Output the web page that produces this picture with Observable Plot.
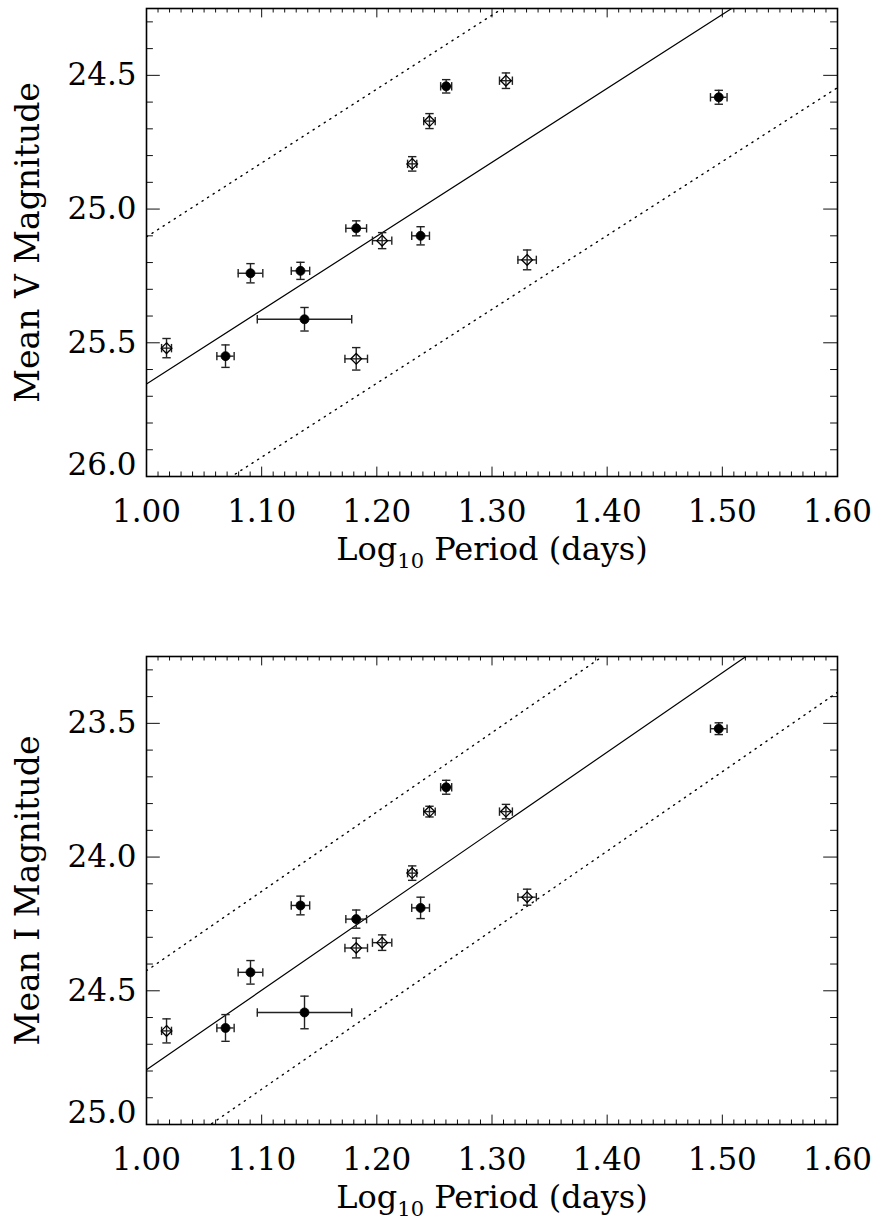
<!DOCTYPE html>
<html>
<head>
<meta charset="utf-8">
<script src="https://cdn.jsdelivr.net/npm/d3@7"></script>
<script src="https://cdn.jsdelivr.net/npm/@observablehq/plot@0.6"></script>
<style>
  body { margin: 0; background: #fff; }
  svg { display: block; }
</style>
</head>
<body>
<div id="chart"></div>
<script>
// ---- Data ----
const logP    = [1.0174, 1.0686, 1.0903, 1.1337, 1.1372, 1.1821, 1.1821, 1.2046, 1.2307, 1.2380, 1.2457, 1.2602, 1.3121, 1.3305, 1.4969];
const logPErr = [0.0043, 0.0075, 0.0107, 0.0080, 0.0410, 0.0098, 0.0090, 0.0084, 0.0040, 0.0077, 0.0050, 0.0048, 0.0056, 0.0080, 0.0072];
const vMag    = [25.520, 25.550, 25.240, 25.231, 25.412, 25.560, 25.072, 25.118, 24.831, 25.100, 24.671, 24.541, 24.520, 25.190, 24.582];
const vErr    = [0.036, 0.042, 0.036, 0.032, 0.044, 0.042, 0.028, 0.030, 0.027, 0.034, 0.028, 0.025, 0.029, 0.037, 0.026];
const iMag    = [24.650, 24.639, 24.431, 24.181, 24.581, 24.340, 24.232, 24.320, 24.060, 24.190, 23.830, 23.739, 23.830, 24.150, 23.520];
const iErr    = [0.045, 0.050, 0.044, 0.035, 0.061, 0.037, 0.034, 0.029, 0.027, 0.040, 0.020, 0.026, 0.027, 0.030, 0.022];
const filled  = [false, true, true, true, true, false, true, false, false, true, false, true, false, false, true];

// fitted P-L relations (end points at the x-domain limits) and scatter band
const fitLogP = [1.00, 1.60];
const fitV    = [25.654, 23.996];
const fitI    = [24.795, 23.014];
const bandV   = 0.55;
const bandI   = 0.37;

// axes
const xTickLabels = [1.00, 1.10, 1.20, 1.30, 1.40, 1.50, 1.60];
const vTickLabels = [24.5, 25.0, 25.5, 26.0];
const iTickLabels = [23.5, 24.0, 24.5, 25.0];
const vDomain = [24.25, 26.0];
const iDomain = [23.25, 25.0];
const xTitleParts = ["Log", "10", " Period (days)"];
const xTitle  = xTitleParts.join("");
const vTitle  = "Mean V Magnitude";
const iTitle  = "Mean I Magnitude";

// ---- Layout ----
const WIDTH = 875, HEIGHT = 611;
const ML = 146, MR = 38;
const W = WIDTH - ML - MR;
const FONT = "'DejaVu Serif', serif";

const hcap = {draw(ctx, size) { const r = Math.sqrt(size / Math.PI); ctx.moveTo(-r, 0); ctx.lineTo(r, 0); }};
const vcap = {draw(ctx, size) { const r = Math.sqrt(size / Math.PI); ctx.moveTo(0, -r); ctx.lineTo(0, r); }};

function panel({mag, err, fit, band, domain, ticks, title, marginTop, marginBottom}) {
  const H = HEIGHT - marginTop - marginBottom;
  const rows = logP.map((p, k) => ({p, pe: logPErr[k], m: mag[k], e: err[k], f: filled[k]}));
  const fitRows = fitLogP.map((p, k) => ({p, m: fit[k]}));
  const xMinor = d3.range(100, 161).map(d => d / 100).filter(d => Math.round(d * 100) % 10 !== 0);
  const xMajor = xTickLabels;
  const yMinor = d3.range(Math.round(domain[0] * 10) / 10, domain[1] + 1e-9, 0.1)
                   .map(d => Math.round(d * 10) / 10)
                   .filter(d => d > domain[0] && Math.round(d * 10) % 5 !== 0);
  const yMajor = ticks;
  const ink = "#111";
  const svg = Plot.plot({
    width: WIDTH, height: HEIGHT,
    marginLeft: ML, marginRight: MR, marginTop, marginBottom,
    style: {fontFamily: FONT, fontSize: "31px", background: "white", color: "black", overflow: "visible"},
    x: {domain: [1.0, 1.6]},
    y: {domain, reverse: true},
    marks: [
      // tick marks on all four sides (inward)
      Plot.tickX(xMinor, {x: d => d, insetTop: H - 4.5, stroke: ink}),
      Plot.tickX(xMinor, {x: d => d, insetBottom: H - 4.5, stroke: ink}),
      Plot.tickX(xMajor, {x: d => d, insetTop: H - 9.4, stroke: ink}),
      Plot.tickX(xMajor, {x: d => d, insetBottom: H - 9.4, stroke: ink}),
      Plot.tickY(yMinor, {y: d => d, insetRight: W - 6.9, stroke: ink}),
      Plot.tickY(yMinor, {y: d => d, insetLeft: W - 6.9, stroke: ink}),
      Plot.tickY(yMajor, {y: d => d, insetRight: W - 13.8, stroke: ink}),
      Plot.tickY(yMajor, {y: d => d, insetLeft: W - 13.8, stroke: ink}),
      // fit and scatter band
      Plot.line(fitRows, {x: "p", y: "m", stroke: "black", strokeWidth: 1.2, clip: true}),
      Plot.line(fitRows, {x: "p", y: d => d.m - band, stroke: "black", strokeWidth: 1.4, strokeDasharray: "1.2,5.4", clip: true}),
      Plot.line(fitRows, {x: "p", y: d => d.m + band, stroke: "black", strokeWidth: 1.4, strokeDasharray: "1.2,5.4", clip: true}),
      // error bars
      Plot.ruleX(rows, {x: "p", y1: d => d.m - d.e, y2: d => d.m + d.e, stroke: "#222", strokeWidth: 1.4}),
      Plot.ruleY(rows, {y: "m", x1: d => d.p - d.pe, x2: d => d.p + d.pe, stroke: "#222", strokeWidth: 1.4}),
      Plot.dot(rows, {x: "p", y: d => d.m - d.e, symbol: hcap, r: 4.2, stroke: "#222", strokeWidth: 1.4}),
      Plot.dot(rows, {x: "p", y: d => d.m + d.e, symbol: hcap, r: 4.2, stroke: "#222", strokeWidth: 1.4}),
      Plot.dot(rows, {x: d => d.p - d.pe, y: "m", symbol: vcap, r: 4.2, stroke: "#222", strokeWidth: 1.4}),
      Plot.dot(rows, {x: d => d.p + d.pe, y: "m", symbol: vcap, r: 4.2, stroke: "#222", strokeWidth: 1.4}),
      // symbols
      Plot.dot(rows.filter(d => d.f), {x: "p", y: "m", r: 4.5, fill: "black", stroke: "black", strokeWidth: 0.8}),
      Plot.dot(rows.filter(d => !d.f), {x: "p", y: "m", r: 4.8, symbol: "diamond2", fill: "none", stroke: "black", strokeWidth: 1.3}),
      Plot.frame({stroke: "black", strokeWidth: 1.6}),
      // tick labels
      Plot.axisX(xTickLabels, {tickSize: 0, tickPadding: 23, tickFormat: d => d.toFixed(2), label: null, fontSize: 31}),
      Plot.axisY(yMajor.slice(0, -1), {tickSize: 0, tickPadding: 10, tickFormat: d => d.toFixed(1), label: null, fontSize: 31}),
      Plot.axisY(yMajor.slice(-1), {tickSize: 0, tickPadding: 10, tickFormat: d => d.toFixed(1), label: null, fontSize: 31, dy: -11}),
      // axis titles
      Plot.text([xTitle], {text: d => d, frameAnchor: "bottom", textAnchor: "middle", lineAnchor: "middle", dy: 73, fontSize: 32, fill: "black"}),
      Plot.text([title], {text: d => d, frameAnchor: "left", textAnchor: "middle", lineAnchor: "middle", rotate: -90, dx: -118, fontSize: 33, fill: "black"})
    ]
  });
  // typeset the subscript of "Log10"
  d3.select(svg).selectAll("text").filter(function() { return this.textContent === xTitle; })
    .each(function() {
      const t = d3.select(this);
      t.text(null);
      t.append("tspan").text(xTitleParts[0]);
      t.append("tspan").attr("font-size", 21).attr("dy", 8).text(xTitleParts[1]);
      t.append("tspan").attr("dy", -8).text(xTitleParts[2]);
    });
  return svg;
}

const chart = document.getElementById("chart");
chart.append(panel({mag: vMag, err: vErr, fit: fitV, band: bandV, domain: vDomain, ticks: vTickLabels, title: vTitle, marginTop: 8, marginBottom: 135}));
chart.append(panel({mag: iMag, err: iErr, fit: fitI, band: bandI, domain: iDomain, ticks: iTickLabels, title: iTitle, marginTop: 45, marginBottom: 98}));
</script>
</body>
</html>
